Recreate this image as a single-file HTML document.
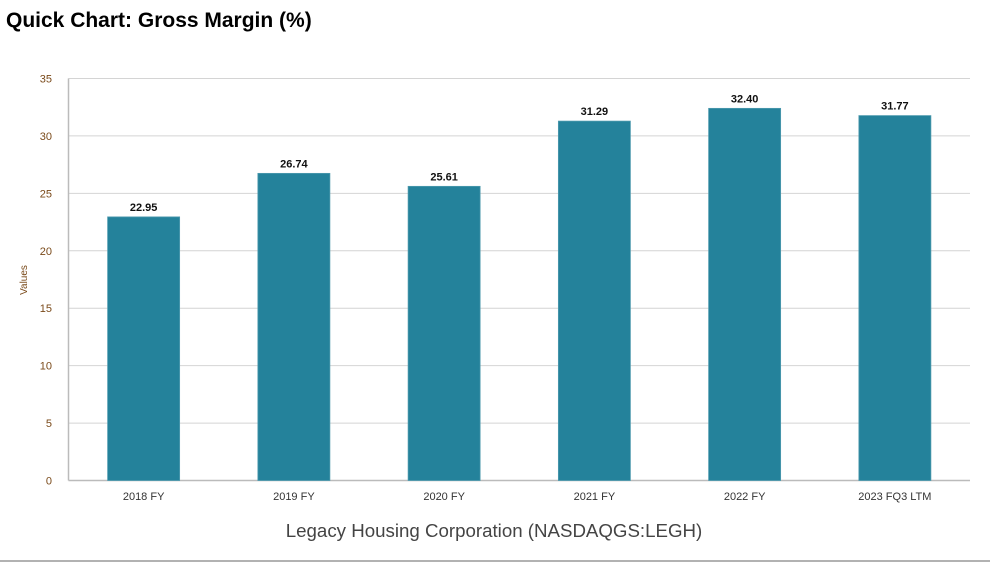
<!DOCTYPE html>
<html><head><meta charset="utf-8"><style>
body{margin:0;background:#fff;width:990px;height:576px;overflow:hidden;font-family:"Liberation Sans",sans-serif}
</style></head><body>
<svg id="chart" width="990" height="576" xmlns="http://www.w3.org/2000/svg">
<text x="6" y="27" font-size="21" font-weight="bold" fill="#000">Quick Chart: Gross Margin (%)</text>
<g id="grid"></g><g id="bars"></g><g id="labels"></g>
<text transform="translate(27,280) rotate(-90)" text-anchor="middle" font-size="10" fill="#7a4a1a">Values</text>
<text x="494" y="537" text-anchor="middle" font-size="18.7" fill="#444">Legacy Housing Corporation (NASDAQGS:LEGH)</text>
<line x1="0" y1="561" x2="990" y2="561" stroke="#999" stroke-width="1.5"/>
</svg>
<script>
const categories=["2018 FY","2019 FY","2020 FY","2021 FY","2022 FY","2023 FQ3 LTM"];
const values=[22.95,26.74,25.61,31.29,32.40,31.77];
const yTicks=[0,5,10,15,20,25,30,35];
const X0=68.5,X1=970,Y0=480.5,Y1=78.5,YMAX=35;
const ns="http://www.w3.org/2000/svg";
const y=v=>Y0-(v/YMAX)*(Y0-Y1);
const band=(X1-X0)/categories.length;
const xc=i=>X0+band*(i+0.5);
function mk(t,a,p){const e=document.createElementNS(ns,t);for(const k in a)e.setAttribute(k,a[k]);p.appendChild(e);return e;}
const g=document.getElementById('grid'),b=document.getElementById('bars'),l=document.getElementById('labels');
yTicks.forEach(t=>{
 const ln=mk('line',{x1:X0,x2:X1,y1:y(t),y2:y(t),stroke:t===0?'#bbb':'#d4d4d4','stroke-width':t===0?1.5:1},g);
 
 
 const tx=mk('text',{x:52,y:y(t)+4,'text-anchor':'end','font-size':11,fill:'#7a4a1a'},l);
 tx.textContent=t;
 
 
});
const ax=mk('line',{x1:X0,x2:X0,y1:Y1,y2:Y0,stroke:'#bbb','stroke-width':1.5},g);


const bw=72;
values.forEach((v,i)=>{
 const r=mk('rect',{x:xc(i)-bw/2,y:y(v),width:bw,height:Y0-y(v),fill:'#24829b',stroke:'#4d9aae','stroke-width':0.8},b);
 
 
 const vt=mk('text',{x:xc(i),y:y(v)-6,'text-anchor':'middle','font-size':11,'font-weight':'bold',fill:'#111'},l);
 vt.textContent=v.toFixed(2);
 
 
 const ct=mk('text',{x:xc(i),y:500,'text-anchor':'middle','font-size':11,fill:'#333'},l);
 ct.textContent=categories[i];
 
 
});
</script>
</body></html>
